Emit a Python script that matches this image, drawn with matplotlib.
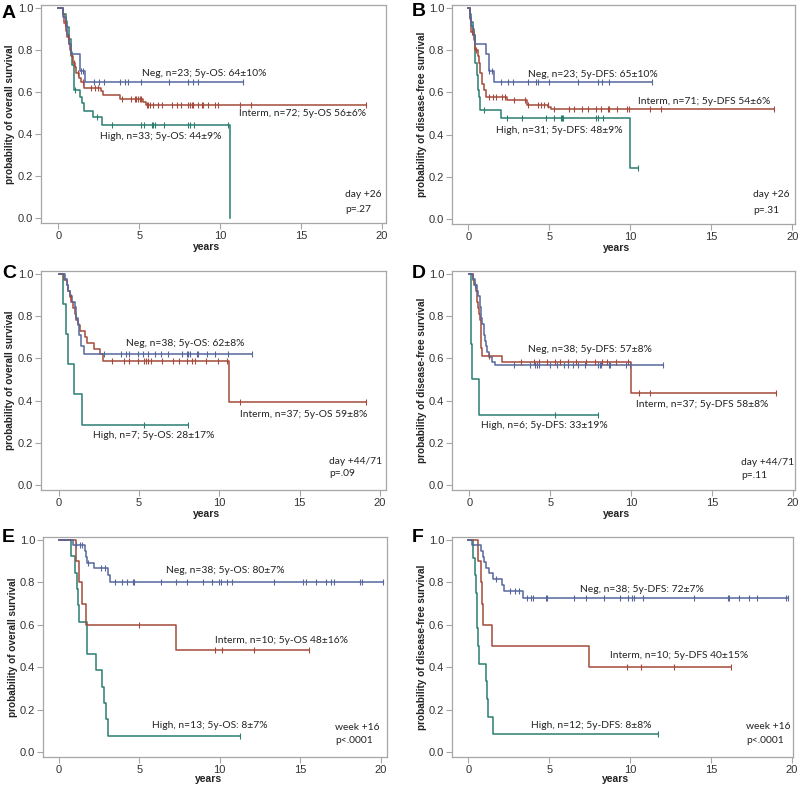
import matplotlib
matplotlib.use('Agg')
import matplotlib.pyplot as plt
import numpy as np

#---- fonts / colours ----#
plt.rcParams['font.family'] = ['Liberation Sans', 'DejaVu Sans']
NOTE_FONT = ['Lato', 'DejaVu Sans']
c_neg = '#56679c'
c_int = '#a44a3b'
c_high = '#2b7d70'
frame = '#a6a6a6'

#---- data: step times, survival after step, censor times ----#
# A: OS, day +26
A_neg_t = [0.3, 0.45, 0.55, 0.65, 0.75, 1.3, 1.65]
A_neg_s = [0.957, 0.913, 0.870, 0.826, 0.783, 0.700, 0.648]
A_neg_c = [1.4, 1.5, 2.2, 2.5, 2.8, 3.8, 4.1, 4.3, 5.1, 6.8, 8.0, 8.3, 8.6, 11.4]
A_int_t = [0.25, 0.35, 0.45, 0.55, 0.62, 0.7, 0.8, 0.9, 1.0, 1.1, 1.25, 1.4, 1.6, 2.6, 2.75, 3.8, 5.25, 5.4]
A_int_s = [0.97, 0.93, 0.89, 0.86, 0.83, 0.80, 0.77, 0.74, 0.72, 0.69, 0.665, 0.645, 0.62, 0.605, 0.585, 0.565, 0.553, 0.54]
A_int_c = [0.4, 0.6, 0.95, 1.2, 1.5, 2.04, 2.25, 2.45, 3.9, 4.5, 4.72, 4.82, 4.93, 5.03, 5.13, 5.44, 5.55, 5.65,
           5.86, 6.16, 6.37, 6.99, 7.3, 7.6, 8.02, 8.12, 8.23, 8.33, 8.64, 8.85, 8.95, 9.26, 9.67, 9.88, 11.2, 11.9, 19.0]
A_high_t = [0.3, 0.45, 0.55, 0.65, 0.75, 0.85, 0.95, 1.3, 1.45, 1.55, 2.15, 2.7, 10.6]
A_high_s = [0.97, 0.94, 0.91, 0.85, 0.79, 0.73, 0.61, 0.575, 0.545, 0.51, 0.48, 0.445, 0.0]
A_high_c = [1.0, 2.35, 3.3, 5.1, 5.3, 5.75, 5.85, 5.95, 6.5, 8.0, 8.1, 8.4, 10.45]

# B: DFS, day +26
B_neg_t = [0.1, 0.2, 0.3, 0.45, 1.12, 1.28, 1.6]
B_neg_s = [0.957, 0.913, 0.87, 0.83, 0.78, 0.70, 0.648]
B_neg_c = [1.3, 1.44, 2.0, 2.43, 2.78, 3.71, 4.19, 4.29, 5.01, 6.8, 8.04, 8.25, 8.66, 11.34]
B_int_t = [0.1, 0.2, 0.35, 0.45, 0.6, 0.65, 0.75, 0.85, 1.0, 1.1, 2.4, 3.65, 4.95, 5.1]
B_int_s = [0.95, 0.885, 0.85, 0.80, 0.77, 0.74, 0.69, 0.64, 0.61, 0.58, 0.562, 0.54, 0.53, 0.52]
B_int_c = [0.25, 0.5, 1.3, 1.5, 1.7, 2.1, 2.3, 2.8, 3.5, 3.7, 4.3, 4.5, 4.7, 4.9, 5.3, 6.2, 6.5, 7.0, 7.4,
           7.9, 8.2, 8.6, 8.7, 9.2, 9.8, 9.9, 11.2, 11.9, 18.9]
B_high_t = [0.1, 0.2, 0.3, 0.35, 0.4, 0.45, 0.55, 0.6, 0.65, 0.7, 2.0, 10.0]
B_high_s = [0.97, 0.935, 0.90, 0.87, 0.81, 0.74, 0.68, 0.61, 0.58, 0.516, 0.48, 0.24]
B_high_c = [1.0, 2.4, 3.3, 4.8, 5.3, 5.7, 5.8, 5.85, 7.9, 8.0, 8.3, 10.45]

# C: OS, day +44/71
C_neg_t = [0.4, 0.5, 0.6, 0.7, 0.85, 1.0, 1.1, 1.2, 1.3, 1.4, 1.6]
C_neg_s = [0.974, 0.947, 0.92, 0.895, 0.868, 0.842, 0.79, 0.763, 0.71, 0.66, 0.62]
C_neg_c = [2.82, 3.88, 4.19, 4.38, 4.92, 5.23, 5.58, 6.0, 6.37, 6.78, 7.66, 7.97, 8.07, 8.17, 8.59, 8.69,
           9.21, 9.73, 10.52, 12.05]
C_int_t = [0.35, 0.5, 0.6, 0.7, 0.8, 0.9, 1.0, 1.1, 1.2, 1.35, 1.65, 1.8, 2.2, 2.55, 2.75, 10.58]
C_int_s = [0.973, 0.946, 0.919, 0.892, 0.865, 0.838, 0.811, 0.784, 0.757, 0.73, 0.70, 0.675, 0.646, 0.62, 0.588, 0.391]
C_int_c = [0.75, 3.3, 4.1, 4.4, 4.95, 5.3, 5.45, 5.55, 5.75, 6.45, 7.1, 7.5, 7.97, 8.3, 8.5, 9.2, 9.9, 10.45,
           11.28, 19.1]
C_high_t = [0.29, 0.44, 0.57, 0.95, 1.49]
C_high_s = [0.857, 0.714, 0.571, 0.429, 0.286]
C_high_c = [5.33, 8.03]

# D: DFS, day +44/71
D_neg_t = [0.25, 0.35, 0.5, 0.55, 0.65, 0.72, 0.8, 0.9, 1.0, 1.05, 1.1, 1.2, 1.4, 1.6]
D_neg_s = [0.974, 0.947, 0.921, 0.895, 0.842, 0.79, 0.763, 0.711, 0.684, 0.658, 0.632, 0.605, 0.585, 0.568]
D_neg_c = [0.35, 2.79, 3.76, 4.07, 4.18, 4.28, 5.0, 5.42, 5.83, 6.1, 6.41, 6.72, 7.18, 7.96, 8.07, 8.17,
           8.62, 8.69, 9.72, 9.93, 11.97]
D_int_t = [0.25, 0.3, 0.4, 0.45, 0.5, 0.55, 0.6, 0.65, 0.7, 0.72, 0.75, 0.77, 2.0, 10.0]
D_int_s = [0.973, 0.946, 0.919, 0.892, 0.865, 0.838, 0.811, 0.784, 0.757, 0.70, 0.65, 0.61, 0.585, 0.438]
D_int_c = [1.2, 3.2, 4.0, 4.3, 4.8, 5.3, 5.6, 6.1, 6.6, 7.2, 7.8, 8.2, 8.5, 9.1, 9.8, 10.5, 11.2, 18.97]
D_high_t = [0.1, 0.13, 0.16, 0.6]
D_high_s = [0.833, 0.667, 0.5, 0.333]
D_high_c = [5.32, 7.96]

# E: OS, week +16
E_neg_t = [0.87, 1.6, 1.7, 1.75, 2.2, 3.05, 3.2]
E_neg_s = [0.974, 0.947, 0.92, 0.89, 0.866, 0.833, 0.80]
E_neg_c = [1.08, 1.34, 1.43, 1.8, 2.6, 2.9, 3.5, 3.91, 4.22, 4.6, 4.7, 6.36, 7.29, 7.99, 8.94, 9.5, 9.98,
           10.06, 10.43, 10.75, 13.37, 15.16, 15.34, 15.98, 16.6, 16.92, 17.12, 18.72, 18.82, 20.12]
E_int_t = [1.08, 1.26, 1.43, 1.68, 7.27]
E_int_s = [0.9, 0.8, 0.7, 0.6, 0.48]
E_int_c = [5.01, 9.71, 10.12, 12.13, 15.57]
E_high_t = [0.75, 1.01, 1.12, 1.2, 1.28, 1.78, 2.3, 2.67, 2.82, 2.94, 3.08]
E_high_s = [0.923, 0.846, 0.769, 0.692, 0.615, 0.462, 0.385, 0.308, 0.231, 0.154, 0.077]
E_high_c = [11.26]

# F: DFS, week +16
F_neg_t = [0.25, 0.8, 0.9, 1.0, 1.1, 1.3, 1.5, 2.1, 2.2, 3.37]
F_neg_s = [0.974, 0.947, 0.921, 0.895, 0.868, 0.842, 0.815, 0.788, 0.757, 0.724]
F_neg_c = [1.7, 2.6, 2.9, 3.15, 3.62, 3.89, 3.99, 4.8, 4.86, 6.56, 7.3, 8.42, 9.37, 9.89, 10.13, 10.24,
           10.8, 13.96, 16.03, 16.13, 16.75, 17.37, 17.85, 19.65, 19.75]
F_int_t = [0.58, 0.79, 0.85, 0.93, 1.49, 7.49]
F_int_s = [0.9, 0.8, 0.7, 0.6, 0.5, 0.4]
F_int_c = [9.82, 10.65, 12.72, 16.24]
F_high_t = [0.27, 0.41, 0.45, 0.52, 0.58, 0.66, 1.1, 1.18, 1.24, 1.55]
F_high_s = [0.917, 0.833, 0.75, 0.583, 0.5, 0.417, 0.333, 0.25, 0.167, 0.083]
F_high_c = [11.75]

#---- text ----#
letters = ['A', 'B', 'C', 'D', 'E', 'F']
ylabels = ['probability of overall survival', 'probability of disease-free survival'] * 3
A_notes = ['Neg, n=23; 5y-OS: 64±10%', 'Interm, n=72; 5y-OS 56±6%', 'High, n=33; 5y-OS: 44±9%']
B_notes = ['Neg, n=23; 5y-DFS: 65±10%', 'Interm, n=71; 5y-DFS 54±6%', 'High, n=31; 5y-DFS: 48±9%']
C_notes = ['Neg, n=38; 5y-OS: 62±8%', 'Interm, n=37; 5y-OS 59±8%', 'High, n=7; 5y-OS: 28±17%']
D_notes = ['Neg, n=38; 5y-DFS: 57±8%', 'Interm, n=37; 5y-DFS 58±8%', 'High, n=6; 5y-DFS: 33±19%']
E_notes = ['Neg, n=38; 5y-OS: 80±7%', 'Interm, n=10; 5y-OS 48±16%', 'High, n=13; 5y-OS: 8±7%']
F_notes = ['Neg, n=38; 5y-DFS: 72±7%', 'Interm, n=10; 5y-DFS 40±15%', 'High, n=12; 5y-DFS: 8±8%']
timepoints = ['day +26', 'day +26', 'day +44/71', 'day +44/71', 'week +16', 'week +16']
pvalues = ['p=.27', 'p=.31', 'p=.09', 'p=.11', 'p<.0001', 'p<.0001']

#---- layout (pixels in an 800x786 canvas) ----#
W, H = 800, 786
boxes = [(41, 5, 386, 223), (452, 5, 795, 224),
         (41, 271, 386, 490), (452, 271, 795, 490),
         (43, 537, 387, 757), (452, 537, 793, 757)]
xlims = [(-1.08, 20.24), (-1.0, 20.17), (-1.09, 20.37), (-1.07, 20.14), (-0.98, 20.39), (-1.01, 20.08)]
xlab_y = [-0.11, -0.11, -0.11, -0.11, -0.1, -0.1]
letter_xy = [(2, 13), (412, 12), (2, 273), (412, 273), (2, 538), (412, 538)]
# note anchor positions (data coords, left/centre)
note_pos = [
    [(5.14, 0.689), (11.17, 0.495), (2.56, 0.387), (17.7, 0.11, 0.038)],
    [(3.68, 0.684), (10.5, 0.558), (1.71, 0.42), (17.6, 0.118, 0.042)],
    [(4.19, 0.67), (11.28, 0.336), (2.12, 0.233), (16.84, 0.11, 0.055)],
    [(3.66, 0.644), (10.28, 0.383), (0.71, 0.284), (16.8, 0.105, 0.047)],
    [(6.66, 0.855), (9.71, 0.524), (5.81, 0.126), (17.16, 0.115, 0.052)],
    [(6.93, 0.766), (8.75, 0.453), (3.87, 0.126), (17.2, 0.118, 0.055)],
]

panels = [
    [(A_neg_t, A_neg_s, A_neg_c), (A_int_t, A_int_s, A_int_c), (A_high_t, A_high_s, A_high_c)],
    [(B_neg_t, B_neg_s, B_neg_c), (B_int_t, B_int_s, B_int_c), (B_high_t, B_high_s, B_high_c)],
    [(C_neg_t, C_neg_s, C_neg_c), (C_int_t, C_int_s, C_int_c), (C_high_t, C_high_s, C_high_c)],
    [(D_neg_t, D_neg_s, D_neg_c), (D_int_t, D_int_s, D_int_c), (D_high_t, D_high_s, D_high_c)],
    [(E_neg_t, E_neg_s, E_neg_c), (E_int_t, E_int_s, E_int_c), (E_high_t, E_high_s, E_high_c)],
    [(F_neg_t, F_neg_s, F_neg_c), (F_int_t, F_int_s, F_int_c), (F_high_t, F_high_s, F_high_c)],
]
notes = [A_notes, B_notes, C_notes, D_notes, E_notes, F_notes]
colors = [c_neg, c_int, c_high]
nfs = 7.4


def km(ax, t, s, cens, color):
    end = max(list(cens) + [t[-1]])
    x = [0.0] + list(t) + [end]
    y = [1.0] + list(s) + [s[-1]]
    ax.step(x, y, where='post', color=color, lw=1.1, zorder=3)
    k = np.searchsorted(np.array(t), np.array(cens), side='right')
    sv = np.concatenate([[1.0], s])[k]
    ax.plot(cens, sv, ls='none', marker='|', ms=5, mew=0.8, color=color, zorder=4)


fig = plt.figure(figsize=(W / 100, H / 100), dpi=100)

for i in range(6):
    l, t, r, b = boxes[i]
    ax = fig.add_axes([l / W, 1 - b / H, (r - l) / W, (b - t) / H])
    # high first, neg on top
    for g in [2, 1, 0]:
        tt, ss, cc = panels[i][g]
        km(ax, tt, ss, cc, colors[g])

    ax.set_xlim(*xlims[i])
    ax.set_ylim(-0.024, 1.014)
    ax.set_xticks([0, 5, 10, 15, 20])
    ax.set_yticks([0.0, 0.2, 0.4, 0.6, 0.8, 1.0])
    ax.set_yticklabels(['0.0', '0.2', '0.4', '0.6', '0.8', '1.0'])
    ax.tick_params(axis='both', direction='out', length=4, width=0.8, color=frame,
                   labelsize=8, labelcolor='#333333', pad=1.5)
    for sp in ax.spines.values():
        sp.set_color(frame)
        sp.set_linewidth(0.9)

    ax.set_xlabel('years', fontsize=7.5, fontweight='bold', color='#222222', va='center')
    ax.xaxis.set_label_coords(0.48, xlab_y[i])
    ax.set_ylabel(ylabels[i], fontsize=7.2, fontweight='bold', color='#222222')
    ax.yaxis.set_label_coords(-0.074, 0.5)

    for g in range(3):
        x, y = note_pos[i][g]
        ax.text(x, y, notes[i][g], fontsize=nfs, family=NOTE_FONT, color='#222222',
                ha='left', va='center')
    x, y1, y2 = note_pos[i][3]
    ax.text(x, y1, timepoints[i], fontsize=nfs, family=NOTE_FONT, color='#222222', ha='left', va='center')
    ax.text(x, y2, pvalues[i], fontsize=nfs, family=NOTE_FONT, color='#222222', ha='left', va='center')

    lx, ly = letter_xy[i]
    fig.text(lx / W, 1 - ly / H, letters[i], fontsize=14, fontweight='bold', ha='left', va='center')

fig.savefig('out.png', dpi=100)
